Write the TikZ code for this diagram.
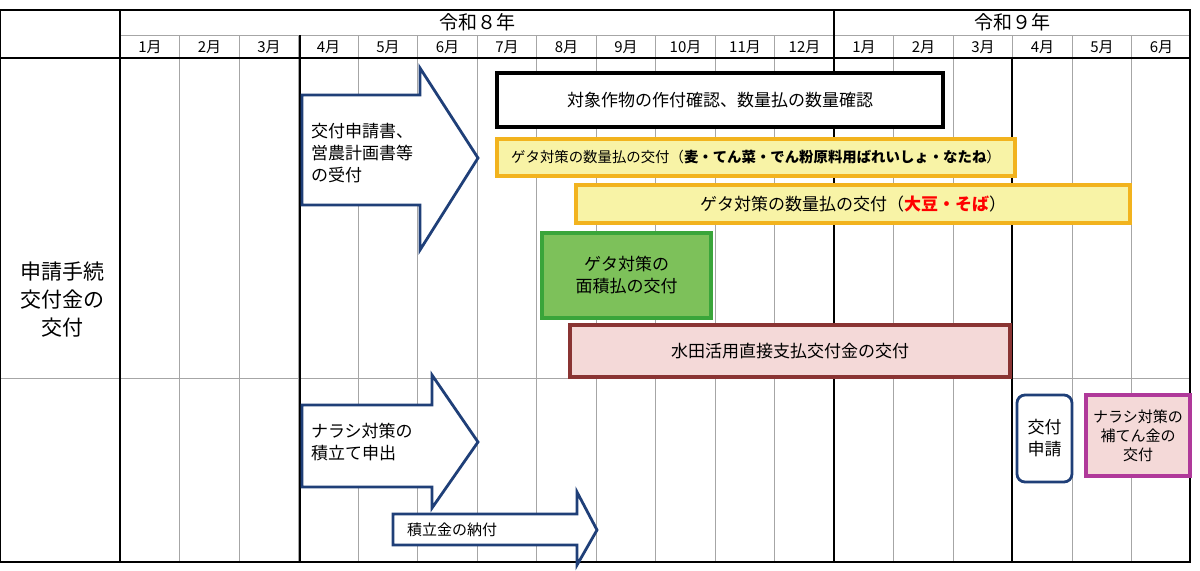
\documentclass[tikz,border=0pt]{standalone}
\usepackage{fontspec}
\setmainfont{Noto Sans CJK JP}
\definecolor{navy}{HTML}{1F3F78}
\definecolor{gold}{HTML}{F2B31E}
\definecolor{ylw}{HTML}{F8F3A6}
\definecolor{grn}{HTML}{7DC15A}
\definecolor{grnb}{HTML}{3AA53A}
\definecolor{pnk}{HTML}{F4D9D8}
\definecolor{maroon}{HTML}{8A3433}
\definecolor{mag}{HTML}{B0399A}
\begin{document}
\begin{tikzpicture}[x=0.5pt,y=-0.5pt,
 grid/.style={gray!70,line width=0.4pt},
 thick line/.style={black,line width=1.2pt},
 txt/.style={font=\fontsize{8.5}{11}\selectfont,align=center},
 arr/.style={draw=navy,line width=1.4pt,fill=white,line join=miter},
 ybox/.style={draw=gold,fill=ylw,line width=1.8pt}]
\useasboundingbox (0,0) rectangle (1200,570);
% grid
\foreach \i in {1,...,17}{\draw[grid] (120+\i*59.5,35) -- (120+\i*59.5,562);}
\draw[grid] (120,35) -- (1190,35);
\draw[grid] (0,378) -- (1190,378);
\draw[thick line] (0,10) rectangle (1190,562);
\draw[thick line] (120,10) -- (120,562);
\draw[thick line] (0,58) -- (1190,58);
\draw[thick line] (834,10) -- (834,562);
\draw[thick line] (300,35) -- (300,562);
\draw[thick line] (1012,58) -- (1012,562);
\node[txt,font=\fontsize{9.5}{10}\selectfont] (y8) at (477,22) {令和８年};
\node[txt,font=\fontsize{9.5}{10}\selectfont] (y9) at (1012,22) {令和９年};
\foreach \m [count=\i from 0] in {1,2,3,4,5,6,7,8,9,10,11,12,1,2,3,4,5,6}
 {\node[txt,font=\fontsize{7.5}{8}\selectfont] (m\i) at (150+\i*59.5,47) {\m 月};}
\node[txt,font=\fontsize{10.5}{14}\selectfont] (lab) at (62,300) {申請手続\\交付金の\\交付};
% arrows
\draw[arr] (302,95) -- (420,95) -- (420,68) -- (478,158) -- (420,250) -- (420,205) -- (302,205) -- cycle;
\node[txt,anchor=west,align=left] (a1) at (304,153) {交付申請書、\\営農計画書等\\の受付};
\draw[arr] (302,405) -- (432,405) -- (432,375) -- (478,442) -- (432,508) -- (432,487) -- (302,487) -- cycle;
\node[txt,anchor=west,align=left] (a2) at (304,442) {ナラシ対策の\\積立て申出};
\draw[arr] (393,514) -- (577,514) -- (577,492) -- (597,530) -- (577,565) -- (577,545) -- (393,545) -- cycle;
\node[txt,anchor=west,font=\fontsize{7.5}{8}\selectfont] (a3) at (400,530) {積立金の納付};
% boxes
\node[draw,fill=white,line width=1.8pt,minimum width=223pt,minimum height=27pt,txt] (b1) at (720,100) {対象作物の作付確認、数量払の数量確認};
\node[ybox,minimum width=259pt,minimum height=18.5pt,inner xsep=1pt,txt,font=\fontsize{7.2}{8}\selectfont] (b2) at (756,157.5) {ゲタ対策の数量払の交付（\textbf{麦・てん菜・でん粉原料用ばれいしょ・なたね}）};
\node[ybox,minimum width=277pt,minimum height=19pt,txt] (b3) at (853,204) {ゲタ対策の数量払の交付（\textcolor{red}{\textbf{大豆・そば}}）};
\node[draw=grnb,fill=grn,line width=1.6pt,minimum width=84.5pt,minimum height=42.5pt,txt] (b4) at (626.5,275.5) {ゲタ対策の\\面積払の交付};
\node[draw=maroon,fill=pnk,line width=1.8pt,minimum width=220pt,minimum height=26pt,txt] (b5) at (790,351) {水田活用直接支払交付金の交付};
\node[draw=navy,fill=white,line width=1.4pt,rounded corners=4pt,minimum width=27.5pt,minimum height=43.5pt,txt] (b6) at (1044.5,438.5) {交付\\申請};
\node[draw=mag,fill=pnk,line width=1.6pt,minimum width=52pt,minimum height=40.5pt,txt,font=\fontsize{7.5}{9.5}\selectfont] (b7) at (1138,435.5) {ナラシ対策の\\補てん金の\\交付};
\end{tikzpicture}
\end{document}
